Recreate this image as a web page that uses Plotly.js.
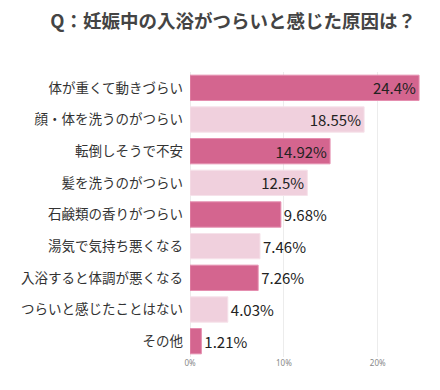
<!DOCTYPE html>
<html><head><meta charset="utf-8">
<script src="https://cdn.plot.ly/plotly-3.0.1.min.js"></script>
<style>html,body{margin:0;padding:0;background:#fff}#chart{width:440px;height:390px}</style>
</head><body><div id="chart"></div>
<script>
const categories = ["体が重くて動きづらい","顔・体を洗うのがつらい","転倒しそうで不安","髪を洗うのがつらい","石鹸類の香りがつらい","湯気で気持ち悪くなる","入浴すると体調が悪くなる","つらいと感じたことはない","その他"];
const values = [24.4, 18.55, 14.92, 12.5, 9.68, 7.46, 7.26, 4.03, 1.21];
const labels = ["24.4%","18.55%","14.92%","12.5%","9.68%","7.46%","7.26%","4.03%","1.21%"];
const positions = ["inside","inside","inside","inside","outside","outside","outside","outside","outside"];
const tickValues = [0, 10, 20];
const tickLabels = ["0%", "10%", "20%"];
const dark = "#d4658f", light = "#f0d0dd";
const colors = categories.map((c,i)=> i%2===0 ? dark : light);
const lines = categories.map((c,i)=> i%2===0 ? "#e58fb0" : "#f6e2ea");
const trace = {
  type: "bar", orientation: "h",
  x: values, y: categories,
  marker: {color: colors, line: {color: lines, width: 1}},
  text: labels, textposition: positions, insidetextanchor: "end",
  textfont: {family: "Noto Sans CJK JP, sans-serif", size: 15, color: "#222"},
  cliponaxis: false, hoverinfo: "none"
};
const layout = {
  width: 440, height: 390,
  margin: {l: 190, r: 20, t: 72, b: 33},
  paper_bgcolor: "#fff", plot_bgcolor: "#fff",
  uniformtext: {mode: "show", minsize: 15},
  title: {text: "<b>Q：妊娠中の入浴がつらいと感じた原因は？</b>", x: 0.53, xanchor: "center", y: 0.945, yanchor: "middle",
    font: {family: "Noto Sans CJK JP, sans-serif", size: 18.5, color: "#444"}},
  bargap: 0.2,
  xaxis: {range: [0, 24.5], tickmode: "array", tickvals: tickValues, ticktext: tickLabels, showgrid: true, gridcolor: "#ececec", gridwidth: 1,
    zeroline: true, zerolinecolor: "#ececec", showline: false,
    tickfont: {family: "Noto Sans, sans-serif", size: 8, color: "#888"}, ticklen: 0},
  yaxis: {autorange: "reversed", showgrid: false, ticklen: 0, ticks: "", ticklabelstandoff: 6,
    tickfont: {family: "Noto Sans CJK JP, sans-serif", size: 13.5, color: "#333"}},
  showlegend: false
};
Plotly.newPlot("chart", [trace], layout, {displayModeBar: false, staticPlot: true});
</script></body></html>
